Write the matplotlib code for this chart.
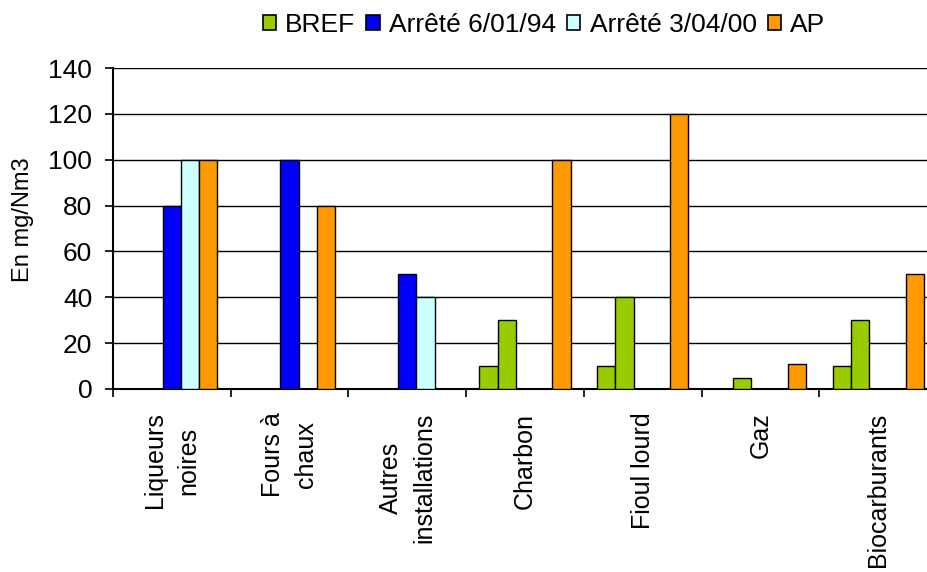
import matplotlib
matplotlib.use("Agg")
import matplotlib.pyplot as plt
from matplotlib.patches import Patch
import numpy as np

plt.rcParams['font.family'] = ['Liberation Sans', 'DejaVu Sans']

# Data (mg/Nm3), nan = no bar
categories = ['Liqueurs\nnoires', 'Fours à\nchaux', 'Autres\ninstallations',
              'Charbon', 'Fioul lourd', 'Gaz', 'Biocarburants']
bref_min = [np.nan, np.nan, np.nan, 10, 10, np.nan, 10]
bref_max = [np.nan, np.nan, np.nan, 30, 40, 5, 30]
arrete_94 = [80, 100, 50, np.nan, np.nan, np.nan, np.nan]
arrete_00 = [100, np.nan, 40, np.nan, np.nan, np.nan, np.nan]
ap = [100, 80, np.nan, 100, 120, 11, 50]

legend_labels = ['BREF', 'Arrêté 6/01/94', 'Arrêté 3/04/00', 'AP']
color_table = {
        'BREF': '#99CC00',
        'Arrêté 6/01/94': '#0000FF',
        'Arrêté 3/04/00': '#CCFFFF',
        'AP': '#FF9900',
        }

series = [
        (bref_min, 'BREF'),
        (bref_max, 'BREF'),
        (arrete_94, 'Arrêté 6/01/94'),
        (arrete_00, 'Arrêté 3/04/00'),
        (ap, 'AP'),
        ]

W, H = 927, 572
fig = plt.figure(figsize=(W / 100, H / 100), dpi=100)
ax = fig.add_axes([113 / W, 1 - 389 / H, (937 - 113) / W, (389 - 68) / H])

x = np.arange(len(categories)) + 0.5
width = 0.155
for i, (vals, name) in enumerate(series):
    ax.bar(x + (i - 2) * width, vals, width,
           color=color_table[name], edgecolor='black', linewidth=1.0, zorder=3)

# Axes config
ax.set_xlim(0, len(categories))
ax.set_ylim(0, 140)
ax.set_yticks(range(0, 141, 20))
ax.yaxis.grid(True, color='black', linewidth=1.0)
ax.set_axisbelow(True)
for s in ['top', 'right']:
    ax.spines[s].set_visible(False)
for s in ['left', 'bottom']:
    ax.spines[s].set_linewidth(1.5)

ax.set_xticks(range(len(categories) + 1))
ax.set_xticklabels([])
ax.set_xticks(x, minor=True)
ax.set_xticklabels(categories, minor=True, rotation=90, va='top', ha='center',
                   multialignment='center', fontsize=18, linespacing=1.5)
ax.tick_params(axis='x', which='major', direction='out', length=6, width=1.2)
ax.tick_params(axis='x', which='minor', length=0, pad=17)
ax.tick_params(axis='y', direction='out', length=6, width=1.2, pad=9, labelsize=19)

fig.text(23 / W, 1 - 220 / H, 'En mg/Nm3', rotation=90, va='center', ha='center',
         fontsize=17)

# Legend config
handles = [Patch(facecolor=color_table[n], edgecolor='black', linewidth=1.2)
           for n in legend_labels]
fig.legend(handles, legend_labels, loc='upper center',
           bbox_to_anchor=(544 / W, 1.01), ncol=4, frameon=False, fontsize=19,
           handlelength=0.5, handleheight=0.5, handletextpad=0.35,
           columnspacing=0.42, borderpad=0.2)

fig.savefig('out.png', dpi=100)
